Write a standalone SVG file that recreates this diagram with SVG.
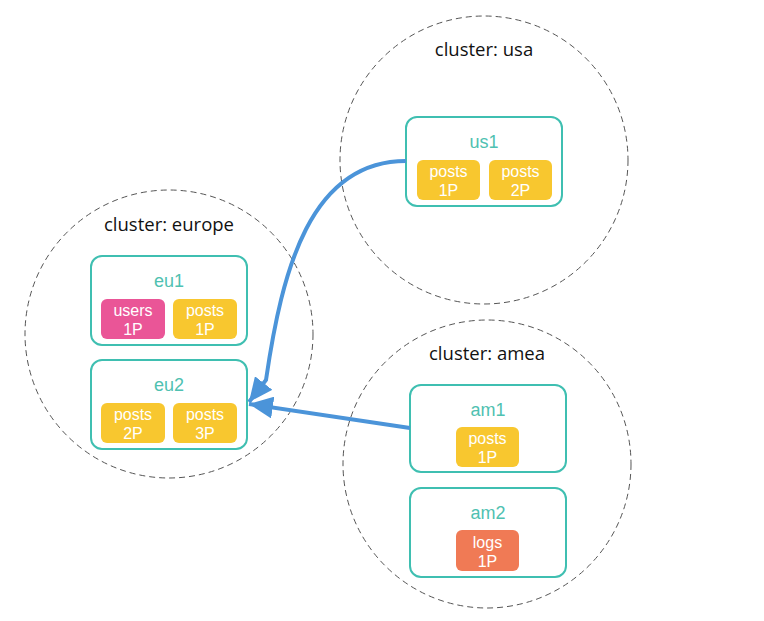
<svg xmlns="http://www.w3.org/2000/svg" width="764" height="621" viewBox="0 0 764 621">
  <style>
    .cluster { fill: none; stroke: #555; stroke-width: 1; stroke-dasharray: 6 4; }
    .cluster-label { font-family: "Open Sans", "Liberation Sans", sans-serif; font-size: 18.5px; fill: #111; text-anchor: middle; }
    .node { fill: #fff; stroke: #3fbfb1; stroke-width: 2; }
    .node-label { font-family: "Liberation Sans", Arial, sans-serif; font-size: 18px; fill: #4fc1b1; text-anchor: middle; }
    .chip-text { font-family: "Liberation Sans", Arial, sans-serif; font-size: 16px; fill: #fff; text-anchor: middle; }
    .posts { fill: #f8c72f; }
    .users { fill: #ea5597; }
    .logs { fill: #f07a55; }
    .edge { fill: none; stroke: #4b94d9; stroke-width: 4; }
  </style>
  <defs>
    <marker id="arrow" markerUnits="userSpaceOnUse" markerWidth="26" markerHeight="22" refX="24" refY="11" orient="auto">
      <path d="M0,0 L24,11 L0,22 Z" fill="#4b94d9"/>
    </marker>
  </defs>

  <rect width="764" height="621" fill="#fff"/>

  <!-- clusters -->
  <g id="cluster-usa">
    <circle class="cluster" cx="484" cy="160" r="144"/>
    <text class="cluster-label" x="484" y="56">cluster: usa</text>
  </g>
  <g id="cluster-europe">
    <circle class="cluster" cx="169" cy="334" r="144"/>
    <text class="cluster-label" x="169" y="231">cluster: europe</text>
  </g>
  <g id="cluster-amea">
    <circle class="cluster" cx="487" cy="464" r="144"/>
    <text class="cluster-label" x="487" y="360">cluster: amea</text>
  </g>

  <!-- nodes -->
  <g id="us1">
    <rect class="node" x="406" y="117" width="156" height="89" rx="11"/>
    <text class="node-label" x="484" y="148">us1</text>
    <rect class="posts" x="417" y="160" width="63" height="40" rx="6"/>
    <text class="chip-text" x="448.5" y="177">posts</text>
    <text class="chip-text" x="448.5" y="196">1P</text>
    <rect class="posts" x="489" y="160" width="63" height="40" rx="6"/>
    <text class="chip-text" x="520.5" y="177">posts</text>
    <text class="chip-text" x="520.5" y="196">2P</text>
  </g>

  <g id="eu1">
    <rect class="node" x="91" y="256" width="156" height="89" rx="11"/>
    <text class="node-label" x="169" y="287">eu1</text>
    <rect class="users" x="101" y="299" width="64" height="40" rx="6"/>
    <text class="chip-text" x="133" y="316">users</text>
    <text class="chip-text" x="133" y="335">1P</text>
    <rect class="posts" x="173" y="299" width="64" height="40" rx="6"/>
    <text class="chip-text" x="205" y="316">posts</text>
    <text class="chip-text" x="205" y="335">1P</text>
  </g>

  <g id="eu2">
    <rect class="node" x="91" y="360" width="156" height="89" rx="11"/>
    <text class="node-label" x="169" y="391">eu2</text>
    <rect class="posts" x="101" y="403" width="64" height="40" rx="6"/>
    <text class="chip-text" x="133" y="420">posts</text>
    <text class="chip-text" x="133" y="439">2P</text>
    <rect class="posts" x="173" y="403" width="64" height="40" rx="6"/>
    <text class="chip-text" x="205" y="420">posts</text>
    <text class="chip-text" x="205" y="439">3P</text>
  </g>

  <g id="am1">
    <rect class="node" x="410" y="385" width="156" height="87" rx="11"/>
    <text class="node-label" x="488" y="416">am1</text>
    <rect class="posts" x="456" y="427" width="63" height="40" rx="6"/>
    <text class="chip-text" x="487.5" y="444">posts</text>
    <text class="chip-text" x="487.5" y="463">1P</text>
  </g>

  <g id="am2">
    <rect class="node" x="410" y="488" width="156" height="89" rx="11"/>
    <text class="node-label" x="488" y="519">am2</text>
    <rect class="logs" x="456" y="530" width="63" height="41" rx="6"/>
    <text class="chip-text" x="487.5" y="548">logs</text>
    <text class="chip-text" x="487.5" y="567">1P</text>
  </g>

  <!-- connectors -->
  <g id="edges">
    <path class="edge" d="M406,161 C310,161 282,270 266,380 L249,402" marker-end="url(#arrow)"/>
    <path class="edge" d="M410,428 L249,404" marker-end="url(#arrow)"/>
  </g>
</svg>
